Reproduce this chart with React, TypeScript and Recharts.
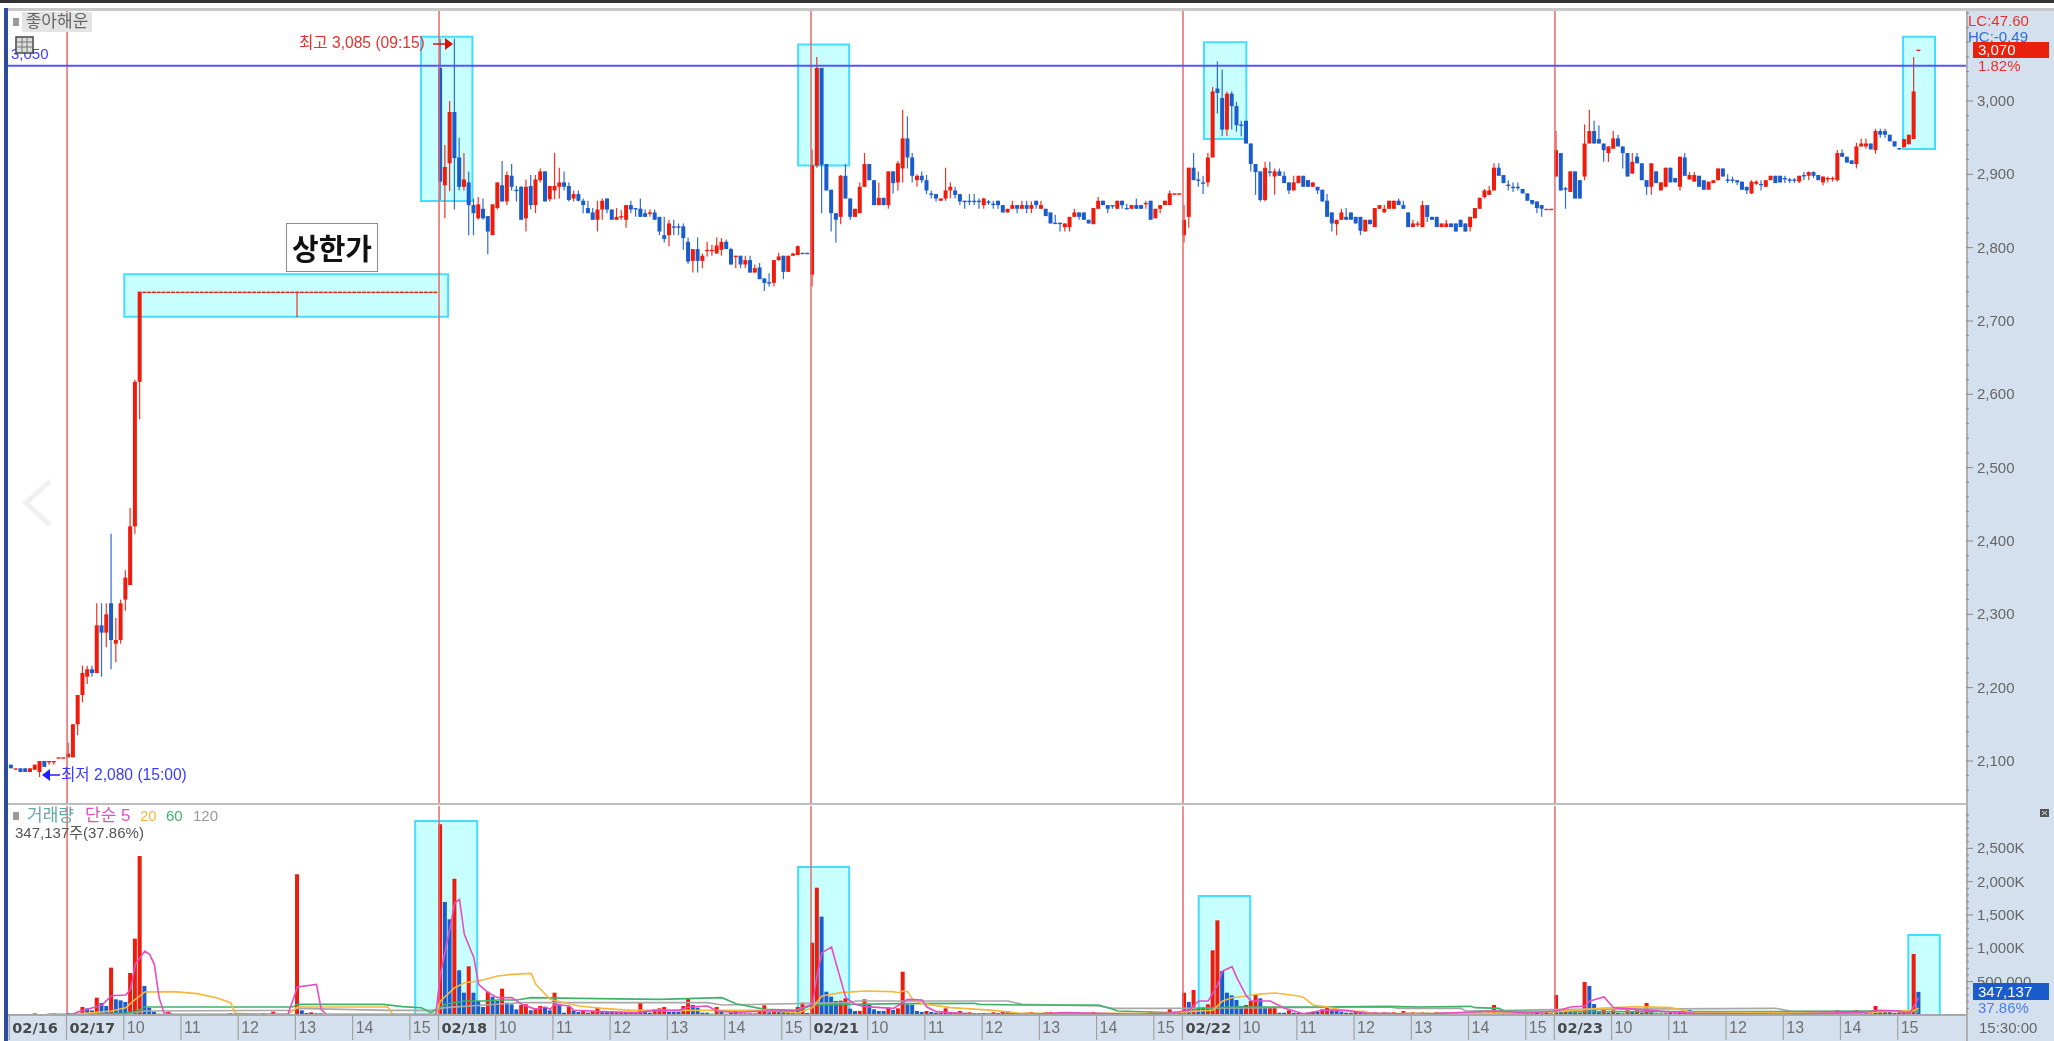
import React from 'react';
import {
  ComposedChart,
  Bar,
  Line,
  Cell,
  XAxis,
  YAxis,
  ReferenceArea,
  ReferenceLine,
} from 'recharts';

// rows are [open, close, high, low, volume in K], 5 minute candles
const day0216 = [
  [2095,2090,2095,2090,5],[2090,2090,2090,2090,3],[2090,2085,2090,2085,3],[2090,2085,2090,2085,3],
  [2085,2090,2090,2085,5],[2088,2095,2095,2088,25],[2085,2100,2100,2078,8],[2100,2092,2100,2092,5],
  [2099,2100,2100,2095,20],[2099,2100,2100,2095,20],[2105,2105,2105,2105,15],[2105,2105,2105,2105,3],
];

const day0217 = [
  [2105,2110,2125,2105,30],[2105,2150,2150,2105,25],[2150,2190,2190,2135,35],[2190,2220,2230,2180,120],
  [2215,2225,2230,2205,100],[2225,2220,2230,2215,70],[2220,2285,2315,2220,260],[2285,2275,2315,2215,180],
  [2275,2300,2315,2255,135],[2315,2265,2410,2225,710],[2260,2265,2295,2235,235],[2265,2315,2320,2260,220],
  [2320,2350,2360,2305,195],[2340,2420,2445,2340,630],[2420,2617,2620,2410,1145],[2617,2740,2740,2566,2385],
  [2740,2740,2740,2740,435],[2740,2740,2740,2740,110],[2740,2740,2740,2740,50],[2740,2740,2740,2740,20],
  [2740,2740,2740,2740,20],[2740,2740,2740,2740,50],[2740,2740,2740,2740,15],[2740,2740,2740,2740,15],
  [2740,2740,2740,2740,10],[2740,2740,2740,2740,10],[2740,2740,2740,2740,8],[2740,2740,2740,2740,5],
  [2740,2740,2740,2740,5],[2740,2740,2740,2740,0],[2740,2740,2740,2740,0],[2740,2740,2740,2740,0],
  [2740,2740,2740,2740,0],[2740,2740,2740,2740,0],[2740,2740,2740,2740,25],[2740,2740,2740,2740,0],
  [2740,2740,2740,2740,0],[2740,2740,2740,2740,10],[2740,2740,2740,2740,0],[2740,2740,2740,2740,0],
  [2740,2740,2740,2740,0],[2740,2740,2740,2740,25],[2740,2740,2740,2740,0],[2740,2740,2740,2740,50],
  [2740,2740,2740,2740,0],[2740,2740,2740,2740,10],[2740,2740,2740,2740,0],[2740,2740,2740,2740,0],
  [2740,2740,2740,2705,2110],[2740,2740,2740,2740,70],[2740,2740,2740,2740,30],[2740,2740,2740,2740,40],
  [2740,2740,2740,2740,25],[2740,2740,2740,2740,25],[2740,2740,2740,2740,15],[2740,2740,2740,2740,10],
  [2740,2740,2740,2740,10],[2740,2740,2740,2740,0],[2740,2740,2740,2740,0],[2740,2740,2740,2740,0],
  [2740,2740,2740,2740,0],[2740,2740,2740,2740,0],[2740,2740,2740,2740,0],[2740,2740,2740,2740,0],
  [2740,2740,2740,2740,0],[2740,2740,2740,2740,0],[2740,2740,2740,2740,0],[2740,2740,2740,2740,0],
  [2740,2740,2740,2740,0],[2740,2740,2740,2740,0],[2740,2740,2740,2740,0],[2740,2740,2740,2740,0],
  [2740,2740,2740,2740,0],[2740,2740,2740,2740,0],[2740,2740,2740,2740,0],[2740,2740,2740,2740,0],
  [2740,2740,2740,2740,0],[2740,2740,2740,2740,0],
];

const day0218 = [
  [3045,2890,3085,2865,2860],[2885,2910,2940,2840,1695],[2915,2985,3000,2877,1435],[2985,2922,3085,2852,2045],
  [2923,2883,2950,2878,670],[2883,2893,2929,2878,335],[2889,2858,2904,2817,730],[2858,2847,2867,2817,335],
  [2840,2859,2869,2838,210],[2853,2840,2867,2838,120],[2843,2822,2843,2791,350],[2817,2859,2859,2817,275],
  [2854,2889,2889,2852,210],[2885,2863,2918,2863,395],[2863,2899,2904,2858,185],[2898,2883,2914,2878,160],
  [2879,2878,2884,2863,85],[2883,2838,2884,2838,150],[2840,2883,2893,2822,160],[2884,2858,2899,2852,70],
  [2858,2893,2899,2847,100],[2892,2904,2908,2889,135],[2904,2863,2904,2863,120],[2866,2884,2884,2863,70],
  [2878,2884,2929,2866,335],[2883,2889,2909,2867,150],[2889,2883,2904,2878,35],[2884,2865,2889,2863,125],
  [2867,2873,2878,2863,70],[2873,2864,2878,2863,45],[2864,2858,2867,2847,70],[2854,2847,2864,2847,35],
  [2848,2838,2854,2838,60],[2838,2852,2864,2822,110],[2852,2864,2867,2838,60],[2867,2852,2867,2847,60],
  [2852,2838,2852,2838,50],[2838,2842,2854,2838,35],[2842,2843,2851,2838,30],[2838,2858,2858,2827,30],
  [2858,2852,2864,2847,30],[2854,2853,2854,2842,30],[2853,2842,2867,2842,185],[2847,2842,2852,2842,60],
  [2846,2848,2852,2842,35],[2848,2838,2852,2838,85],[2842,2822,2842,2817,100],[2817,2812,2842,2807,120],
  [2817,2833,2838,2802,50],[2829,2828,2838,2817,50],[2829,2828,2833,2817,50],[2829,2813,2833,2797,135],
  [2808,2781,2814,2778,245],[2782,2798,2798,2766,150],[2798,2782,2814,2766,110],[2782,2789,2792,2772,35],
  [2796,2797,2808,2788,35],[2796,2797,2804,2789,20],[2792,2803,2814,2792,120],[2797,2808,2813,2789,60],
  [2808,2798,2811,2798,20],[2798,2777,2800,2777,40],[2789,2789,2789,2772,60],[2789,2777,2789,2772,25],
  [2777,2783,2789,2772,25],[2783,2766,2789,2766,25],[2766,2772,2777,2766,25],[2773,2757,2779,2757,50],
  [2758,2752,2758,2741,145],[2753,2752,2765,2747,40],[2752,2783,2783,2747,70],[2783,2788,2793,2782,70],
  [2789,2767,2789,2757,50],[2767,2789,2789,2767,55],[2789,2792,2793,2789,55],[2790,2802,2803,2790,120],
  [2793,2792,2793,2792,185],[2793,2792,2793,2792,30],
];

const day0221 = [
  [2763,2912,2934,2747,1085],[2912,3045,3060,2909,1910],[3045,2913,3045,2847,1475],[2914,2878,2914,2878,350],
  [2879,2847,2879,2822,275],[2847,2838,2847,2807,210],[2842,2898,2899,2832,215],[2898,2867,2914,2867,250],
  [2867,2842,2867,2838,95],[2842,2853,2853,2842,60],[2847,2883,2889,2847,62],[2883,2914,2929,2883,235],
  [2914,2892,2914,2892,150],[2892,2858,2892,2858,85],[2858,2868,2889,2858,60],[2868,2858,2868,2858,60],
  [2858,2904,2904,2853,110],[2904,2888,2904,2874,75],[2889,2915,2918,2878,100],[2908,2949,2988,2889,650],
  [2949,2923,2979,2908,160],[2923,2898,2929,2889,155],[2892,2898,2900,2883,60],[2898,2892,2904,2888,45],
  [2892,2878,2899,2873,60],[2874,2873,2878,2867,45],[2873,2867,2873,2863,35],[2864,2867,2867,2864,30],
  [2867,2878,2909,2864,100],[2878,2883,2889,2867,35],[2878,2872,2883,2867,30],[2873,2863,2873,2858,60],
  [2864,2863,2864,2853,35],[2864,2863,2873,2858,40],[2864,2863,2873,2858,25],[2864,2863,2867,2853,25],
  [2858,2867,2868,2853,30],[2863,2862,2865,2858,25],[2860,2859,2864,2853,40],[2864,2858,2864,2853,30],
  [2858,2848,2858,2848,60],[2848,2853,2853,2848,60],[2853,2858,2864,2853,35],[2858,2853,2858,2847,30],
  [2853,2858,2864,2853,25],[2858,2853,2864,2847,35],[2853,2858,2863,2847,45],[2864,2858,2864,2853,25],
  [2853,2858,2864,2853,30],[2853,2843,2853,2843,40],[2848,2833,2848,2833,45],[2834,2833,2845,2833,25],
  [2834,2833,2834,2822,40],[2828,2833,2833,2822,40],[2828,2842,2842,2822,40],[2842,2848,2853,2842,40],
  [2848,2842,2848,2838,25],[2848,2838,2848,2838,25],[2838,2833,2838,2833,25],[2832,2854,2854,2832,45],
  [2853,2864,2869,2853,25],[2864,2858,2864,2858,25],[2858,2853,2858,2847,25],[2858,2856,2858,2853,25],
  [2853,2864,2864,2853,25],[2864,2858,2864,2853,25],[2854,2853,2860,2853,25],[2853,2858,2858,2853,25],
  [2858,2853,2867,2853,25],[2858,2853,2858,2853,25],[2860,2861,2864,2853,25],[2864,2838,2864,2838,50],
  [2840,2853,2853,2840,35],[2853,2858,2858,2847,35],[2858,2864,2864,2858,35],[2858,2874,2878,2858,85],
  [2873,2874,2874,2873,50],[2873,2874,2874,2873,50],
];

const day0222 = [
  [2817,2838,2858,2807,335],[2842,2909,2909,2827,195],[2909,2892,2929,2892,375],[2893,2892,2904,2883,110],
  [2889,2888,2898,2873,110],[2889,2923,2929,2883,160],[2923,3013,3019,2923,970],[3017,3011,3054,2983,1420],
  [3004,2961,3043,2952,660],[2961,3010,3013,2952,335],[3010,2993,3013,2961,295],[2993,2967,2999,2958,225],
  [2968,2967,2973,2952,135],[2973,2942,2973,2942,150],[2942,2914,2942,2904,210],[2914,2903,2914,2872,300],
  [2904,2865,2904,2863,250],[2865,2909,2917,2863,110],[2904,2903,2917,2897,115],[2897,2904,2908,2872,125],
  [2904,2898,2908,2898,35],[2898,2888,2904,2888,35],[2889,2878,2889,2873,70],[2878,2889,2898,2878,35],
  [2888,2898,2898,2888,30],[2898,2883,2898,2883,25],[2892,2883,2892,2883,35],[2883,2889,2889,2883,45],
  [2883,2878,2883,2873,45],[2879,2863,2879,2863,85],[2864,2842,2873,2842,125],[2848,2833,2848,2822,85],
  [2832,2838,2838,2817,85],[2838,2848,2853,2838,50],[2842,2838,2854,2838,35],[2848,2838,2848,2838,35],
  [2842,2833,2842,2833,45],[2842,2823,2842,2817,55],[2822,2838,2838,2822,30],[2838,2832,2838,2832,35],
  [2828,2854,2854,2828,40],[2853,2858,2858,2853,30],[2848,2853,2858,2848,40],[2853,2864,2864,2853,35],
  [2853,2864,2864,2853,40],[2864,2858,2867,2858,30],[2858,2853,2864,2853,60],[2848,2828,2848,2828,35],
  [2828,2833,2838,2828,40],[2832,2833,2836,2828,35],[2828,2858,2864,2828,40],[2858,2842,2858,2835,35],
  [2842,2838,2842,2838,30],[2842,2828,2842,2828,40],[2828,2833,2833,2828,35],[2828,2833,2838,2828,35],
  [2833,2828,2833,2828,25],[2833,2822,2833,2822,30],[2838,2828,2838,2828,25],[2833,2822,2833,2822,30],
  [2828,2842,2842,2822,35],[2840,2854,2854,2840,40],[2853,2868,2868,2853,40],[2869,2878,2880,2867,35],
  [2872,2878,2884,2872,40],[2878,2909,2915,2878,150],[2909,2898,2915,2898,40],[2899,2888,2899,2888,35],
  [2886,2885,2892,2878,25],[2883,2882,2889,2876,25],[2883,2882,2889,2878,25],[2880,2874,2880,2874,25],
  [2874,2864,2874,2864,25],[2865,2860,2865,2858,25],[2863,2854,2863,2847,30],[2858,2853,2858,2842,25],
  [2853,2853,2853,2853,60],[2853,2853,2853,2853,25],
];

const day0223 = [
  [2897,2933,2959,2897,300],[2929,2878,2929,2878,50],[2881,2880,2883,2853,70],[2876,2904,2904,2876,70],
  [2904,2867,2904,2867,40],[2892,2867,2892,2867,35],[2897,2942,2968,2892,495],[2942,2959,2988,2942,435],
  [2959,2942,2973,2942,165],[2948,2942,2967,2942,55],[2942,2933,2942,2917,75],[2929,2938,2938,2917,35],
  [2935,2949,2959,2935,70],[2949,2938,2954,2938,30],[2938,2929,2938,2908,25],[2929,2897,2929,2897,70],
  [2901,2917,2929,2901,50],[2924,2915,2929,2915,70],[2915,2892,2915,2892,35],[2892,2883,2892,2872,180],
  [2883,2915,2915,2872,40],[2904,2888,2904,2888,25],[2878,2889,2889,2878,25],[2883,2909,2909,2883,25],
  [2909,2889,2909,2889,35],[2895,2889,2895,2889,25],[2883,2924,2924,2878,30],[2923,2898,2929,2898,75],
  [2893,2899,2903,2893,75],[2890,2899,2903,2890,30],[2898,2883,2898,2883,40],[2892,2879,2892,2879,30],
  [2879,2890,2890,2879,35],[2888,2892,2892,2888,35],[2892,2908,2908,2892,35],[2908,2897,2908,2897,30],
  [2893,2892,2900,2888,25],[2893,2892,2897,2888,25],[2892,2889,2892,2885,30],[2890,2879,2890,2879,40],
  [2883,2878,2883,2873,25],[2874,2890,2892,2873,30],[2887,2890,2892,2885,30],[2887,2886,2892,2878,25],
  [2883,2892,2892,2883,35],[2892,2898,2898,2892,35],[2898,2888,2898,2888,25],[2898,2889,2898,2889,25],
  [2895,2894,2898,2888,25],[2893,2892,2895,2888,25],[2893,2892,2895,2888,25],[2890,2898,2898,2888,35],
  [2899,2898,2903,2892,25],[2898,2903,2904,2892,40],[2903,2898,2904,2895,30],[2899,2892,2899,2892,25],
  [2889,2897,2897,2885,35],[2894,2895,2897,2889,25],[2894,2895,2897,2890,25],[2892,2929,2933,2890,75],
  [2929,2924,2934,2924,35],[2924,2916,2924,2916,30],[2919,2914,2919,2914,25],[2914,2938,2943,2908,75],
  [2938,2942,2949,2938,35],[2938,2942,2949,2935,30],[2942,2934,2942,2934,25],[2933,2959,2962,2928,135],
  [2959,2954,2962,2950,60],[2959,2954,2962,2950,50],[2954,2945,2954,2945,45],[2945,2938,2945,2938,30],
  [2936,2935,2936,2933,40],[2937,2948,2948,2937,50],[2941,2954,2954,2941,75],[2948,3013,3060,2948,915],
  [3070,3070,3070,3070,347],
];

const ma5Points = [
  [8,10],[10,10],[13,10],[14,50],[16,85],[19,150],[21,290],[24,300],[25,385],[26,760],[28,960],[29,910],[30,760],
  [31,260],[32,35],[34,10],[58,10],[59,210],[60,420],[64,460],[65,85],[66,10],[89,10],[90,610],[92,1310],[93,1685],
  [94,1735],[95,1210],[97,860],[98,460],[100,335],[102,260],[105,260],[107,160],[110,85],[112,120],[113,85],[114,160],
  [117,135],[118,70],[124,50],[131,35],[135,70],[140,70],[142,120],[146,135],[148,60],[152,40],[158,60],[164,60],
  [168,160],[169,610],[170,935],[172,1020],[173,760],[175,260],[177,160],[179,125],[185,100],[188,235],[191,225],
  [192,120],[194,50],[197,35],[202,10],[214,10],[221,35],[236,10],[243,30],[247,70],[249,210],[251,210],[253,460],
  [254,660],[256,725],[257,560],[259,285],[260,210],[264,210],[267,100],[271,20],[275,70],[280,70],[284,30],[295,10],
  [311,60],[318,30],[324,60],[327,120],[330,135],[331,210],[334,270],[336,110],[347,50],[353,25],[370,10],[388,40],
  [392,70],[396,60],[398,10],[400,260],
];
const ma20Points = [
  [13,10],[21,60],[24,110],[26,235],[28,345],[34,350],[39,320],[43,260],[46,185],[47,25],[52,10],[58,10],[60,120],
  [79,120],[80,10],[89,0],[90,210],[93,410],[95,485],[98,510],[102,585],[105,610],[109,625],[110,460],[113,235],
  [116,185],[119,135],[124,100],[130,70],[158,70],[165,30],[168,110],[170,285],[174,335],[179,360],[185,350],
  [186,335],[187,360],[188,350],[189,235],[191,170],[197,110],[206,70],[211,30],[221,20],[243,30],[247,50],[252,70],
  [254,210],[256,260],[259,285],[261,310],[265,330],[270,285],[271,260],[273,150],[276,120],[280,60],[284,50],
  [285,20],[309,25],[324,50],[333,100],[341,125],[348,110],[353,35],[364,35],[388,30],[399,70],[400,100],
];
const ma60Points = [
  [14,10],[24,30],[26,50],[28,120],[59,120],[60,160],[78,160],[82,125],[86,110],[88,35],[91,160],[95,210],[99,210],
  [102,225],[106,225],[109,260],[119,250],[136,235],[149,260],[152,170],[158,85],[165,70],[168,150],[186,170],
  [202,175],[203,160],[212,150],[228,150],[231,85],[232,60],[246,30],[249,100],[256,120],[273,120],[289,130],
  [295,120],[306,130],[307,110],[312,100],[313,60],[324,50],[348,50],[365,50],[400,60],
];
const ma120Points = [
  [14,5],[24,15],[28,60],[59,70],[60,100],[79,70],[88,70],[91,110],[107,185],[114,185],[137,185],[146,185],[149,150],
  [176,185],[177,210],[191,210],[209,210],[212,160],[228,135],[231,100],[244,100],[289,120],[291,100],[304,100],
  [305,60],[326,85],[370,100],[373,60],[400,50],
];

const priceLabels = [2100, 2200, 2300, 2400, 2500, 2600, 2700, 2800, 2900, 3000];
const volumeLabels = [500, 1000, 1500, 2000, 2500];
const dateLabels: Record<number, string> = { 0: '02/16', 12: '02/17', 90: '02/18', 168: '02/21', 246: '02/22', 324: '02/23' };
const hourTicks: [number, string][] = [
  [24,'10'],[36,'11'],[48,'12'],[60,'13'],[72,'14'],[84,'15'],
  [102,'10'],[114,'11'],[126,'12'],[138,'13'],[150,'14'],[162,'15'],
  [180,'10'],[192,'11'],[204,'12'],[216,'13'],[228,'14'],[240,'15'],
  [258,'10'],[270,'11'],[282,'12'],[294,'13'],[306,'14'],[318,'15'],
  [336,'10'],[348,'11'],[360,'12'],[372,'13'],[384,'14'],[396,'15'],
];
const sessionStarts = [12, 90, 168, 246, 324];

const RED = '#ee1c0c';
const BLUE = '#1a5ccc';
const FONT = '"Liberation Sans", "Noto Sans CJK KR", sans-serif';
const BOX = { fill: '#c8ffff', fillOpacity: 1, stroke: '#44ddff', strokeWidth: 2 };

const allRows = [...day0216, ...day0217, ...day0218, ...day0221, ...day0222, ...day0223];
const lookup = (points: number[][]) => new Map(points.map(([i, v]) => [i, v]));
const ma5 = lookup(ma5Points);
const ma20 = lookup(ma20Points);
const ma60 = lookup(ma60Points);
const ma120 = lookup(ma120Points);

const rows = allRows.map(([o, c, h, l, v], i) => ({
  i, o, c, h, l, v,
  range: [l, h],
  volUp: i === 0 || v > allRows[i - 1][4],
  ma5: ma5.get(i) ?? null,
  ma20: ma20.get(i) ?? null,
  ma60: ma60.get(i) ?? null,
  ma120: ma120.get(i) ?? null,
}));

const xDomain = [-0.69, 409.9];
const priceTicks = Array.from({ length: 54 }, (_, k) => 2060 + k * 20);
const volumeTicks = Array.from({ length: 31 }, (_, k) => k * 100);
const xTicks = [...Object.keys(dateLabels).map(Number), ...hourTicks.map((t) => t[0])].sort((a, b) => a - b);
const hourLabel = new Map(hourTicks);

const CandleShape = (props: any) => {
  const { x, y, width, height, payload } = props;
  const { o, c, h, l } = payload;
  const cx = x + width / 2;
  const up = c >= o;
  const color = up ? RED : BLUE;
  const perWon = h > l ? height / (h - l) : 0;
  const yOf = (p: number) => y + (h - p) * perWon;
  const top = yOf(Math.max(o, c));
  const bottom = yOf(Math.min(o, c));
  return (
    <g>
      {h > l && <line x1={cx} x2={cx} y1={y} y2={y + height} stroke={color} strokeWidth={1.2} strokeOpacity={0.9} />}
      <rect x={cx - 2} y={top} width={4} height={Math.max(bottom - top, 1.4)} fill={color} />
    </g>
  );
};

const PriceTick = (props: any) => {
  const { x, y, payload } = props;
  const major = priceLabels.includes(payload.value);
  return (
    <g>
      <line x1={x} x2={x + (major ? 7 : 3)} y1={y} y2={y} stroke="#8a8a8a" />
      {major && (
        <text x={x + 11} y={y + 5} fontSize={15} fontFamily={FONT} fill="#666">
          {payload.value.toLocaleString('en-US')}
        </text>
      )}
    </g>
  );
};

const VolumeTick = (props: any) => {
  const { x, y, payload } = props;
  const major = volumeLabels.includes(payload.value);
  if (payload.value === 0) return <g />;
  const text = payload.value === 500 ? '500,000' : `${payload.value.toLocaleString('en-US')}K`;
  return (
    <g>
      <line x1={x} x2={x + (major ? 7 : 3)} y1={y} y2={y} stroke="#8a8a8a" />
      {major && (
        <text x={x + 11} y={y + 5} fontSize={15} fontFamily={FONT} fill="#666">
          {text}
        </text>
      )}
    </g>
  );
};

const TimeTick = (props: any) => {
  const { x, y, payload } = props;
  const date = dateLabels[payload.value];
  return (
    <g>
      <line x1={x - 2} x2={x - 2} y1={y} y2={y + 25} stroke="#a2a2a2" strokeWidth={1.2} />
      <text
        x={x + 1}
        y={y + 18}
        fontSize={date ? 14.5 : 16}
        fontWeight={date ? 700 : 400}
        fontFamily={date ? '"DejaVu Sans", sans-serif' : FONT}
        fill={date ? '#484848' : '#707070'}
      >
        {date || hourLabel.get(payload.value)}
      </text>
    </g>
  );
};

const label = (left: number, top: number, color: string, size = 15): React.CSSProperties => ({
  position: 'absolute',
  left,
  top,
  color,
  fontSize: size,
  lineHeight: `${size + 3}px`,
  fontFamily: FONT,
  whiteSpace: 'nowrap',
});

const block = (left: number, top: number, width: number, height: number, background: string): React.CSSProperties => ({
  position: 'absolute',
  left,
  top,
  width,
  height,
  background,
});

const App = () => (
  <div style={{ position: 'absolute', left: 0, top: 0, width: 2054, height: 1041, overflow: 'hidden', background: '#fff', filter: 'blur(0.4px)' }}>
    <div style={block(0, 0, 2054, 3, '#333')} />
    <div style={block(4, 8, 2050, 3, '#c8c8c8')} />
    <div style={block(4, 8, 4, 1033, '#2d4a9d')} />
    <div style={block(1966, 11, 88, 1030, '#d4e0ed')} />
    <div style={block(8, 1016, 2046, 25, '#d4e0ed')} />
    <div style={block(1966, 11, 2, 1030, '#b0b0b0')} />

    <div style={{ position: 'absolute', left: 8, top: 11 }}>
      <ComposedChart width={2046} height={792} data={rows} margin={{ top: 0, right: 0, bottom: 0, left: 0 }}>
        <XAxis dataKey="i" type="number" domain={xDomain} hide allowDataOverflow />
        <YAxis
          orientation="right"
          width={88}
          domain={[2042.7, 3122.7]}
          ticks={priceTicks}
          interval={0}
          tick={<PriceTick />}
          tickLine={false}
          tickSize={0}
          tickMargin={0}
          axisLine={false}
          allowDataOverflow
        />
        <ReferenceArea x1={23.7} x2={91.6} y1={2705.9} y2={2763.7} {...BOX} />
        <ReferenceArea x1={85.9} x2={96.7} y1={2863.6} y2={3087.7} {...BOX} />
        <ReferenceArea x1={165} x2={175.7} y1={2912} y2={3077} {...BOX} />
        <ReferenceArea x1={250.1} x2={259} y1={2948} y2={3080} {...BOX} />
        <ReferenceArea x1={396.7} x2={403.4} y1={2934.5} y2={3087.7} {...BOX} />
        {sessionStarts.map((s) => (
          <ReferenceLine key={s} x={s - 0.3} stroke="#e56a6a" strokeWidth={1.5} />
        ))}
        <ReferenceLine y={3048} stroke="#5555ff" strokeWidth={2} />
        <Bar dataKey="range" barSize={4} shape={<CandleShape />} isAnimationActive={false} />
      </ComposedChart>
    </div>

    <div style={block(8, 803, 1958, 2, '#bdbdbd')} />

    <div style={{ position: 'absolute', left: 8, top: 806 }}>
      <ComposedChart width={2046} height={235} data={rows} margin={{ top: 0, right: 0, bottom: 0, left: 0 }}>
        <XAxis
          dataKey="i"
          type="number"
          domain={xDomain}
          ticks={xTicks}
          interval={0}
          height={26}
          tick={<TimeTick />}
          tickLine={false}
          tickSize={0}
          tickMargin={0}
          axisLine={{ stroke: '#a8a8a8', strokeWidth: 2 }}
          allowDataOverflow
        />
        <YAxis
          orientation="right"
          width={88}
          domain={[0, 3135]}
          ticks={volumeTicks}
          interval={0}
          tick={<VolumeTick />}
          tickLine={false}
          tickSize={0}
          tickMargin={0}
          axisLine={false}
          allowDataOverflow
        />
        <ReferenceArea x1={84.7} x2={97.7} y1={0} y2={2910} {...BOX} />
        <ReferenceArea x1={165} x2={175.7} y1={0} y2={2220} {...BOX} />
        <ReferenceArea x1={249} x2={259.8} y1={0} y2={1785} {...BOX} />
        <ReferenceArea x1={397.8} x2={404.4} y1={0} y2={1200} {...BOX} />
        {sessionStarts.map((s) => (
          <ReferenceLine key={s} x={s - 0.3} stroke="#e56a6a" strokeWidth={1.5} />
        ))}
        <Bar dataKey="v" barSize={4} isAnimationActive={false}>
          {rows.map((r) => (
            <Cell key={r.i} fill={r.volUp ? RED : BLUE} />
          ))}
        </Bar>
        <Line dataKey="ma120" stroke="#a8a8a8" strokeWidth={1.6} dot={false} connectNulls isAnimationActive={false} />
        <Line dataKey="ma60" stroke="#3fb26a" strokeWidth={1.6} dot={false} connectNulls isAnimationActive={false} />
        <Line dataKey="ma20" stroke="#f4b83c" strokeWidth={1.6} dot={false} connectNulls isAnimationActive={false} />
        <Line dataKey="ma5" stroke="#e84cc4" strokeWidth={1.6} dot={false} connectNulls isAnimationActive={false} />
      </ComposedChart>
    </div>

    {/* header chip and pane labels */}
    <div style={block(13, 18, 6, 8, '#9a9a9a')} />
    <div style={{ ...label(22, 12, '#666', 17), width: 70, height: 20, background: '#e4e4e4', textAlign: 'center' }}>좋아해운</div>
    <div style={label(11, 45, '#4040ff')}>3,050</div>
    <svg style={{ position: 'absolute', left: 0, top: 0 }} width={2054} height={1041}>
      <rect x={16} y={37} width={17} height={16} fill="#ddd" stroke="#444" strokeWidth={1.5} />
      <path d="M16 42H33M16 47H33M22 37V53M27 37V53" stroke="#777" />
      <path d="M433 44H446" stroke="#d8140a" strokeWidth={1.5} />
      <path d="M445 38L453 44L445 50Z" fill="#d8140a" />
      <path d="M60 775H48" stroke="#2020ff" strokeWidth={1.5} />
      <path d="M50 769L42 775L50 781Z" fill="#2020ff" />
      <path d="M50 481L26 503L50 525" fill="none" stroke="#f0f0f0" strokeWidth={5} />
      <rect x={2040} y={809} width={9} height={8} fill="#555" />
      <path d="M2042 811L2047 815M2047 811L2042 815" stroke="#ddd" />
    </svg>
    <div style={label(299, 34, '#e83030', 15.6)}>최고 3,085 (09:15)</div>
    <div style={label(61, 766, '#3a3aff', 15.6)}>최저 2,080 (15:00)</div>
    <div
      style={{
        position: 'absolute', left: 286, top: 223, width: 90, height: 47, background: '#fff',
        border: '1.5px solid #8c8c8c', textAlign: 'center', fontFamily: '"Noto Sans CJK KR", sans-serif',
        fontWeight: 700, fontSize: 29, lineHeight: '46px', color: '#111',
      }}
    >
      상한가
    </div>

    <div style={block(13, 812, 6, 8, '#9a9a9a')} />
    <div style={label(27, 806, '#60a8a8', 17)}>거래량</div>
    <div style={label(85, 806, '#e050c0', 17)}>단순 5</div>
    <div style={label(140, 807, '#f4b83c')}>20</div>
    <div style={label(166, 807, '#3fb26a')}>60</div>
    <div style={label(193, 807, '#999')}>120</div>
    <div style={label(15, 824, '#555')}>347,137주(37.86%)</div>

    {/* right scale tags */}
    <div style={label(1968, 12, '#e83030')}>LC:47.60</div>
    <div style={label(1968, 28, '#2f6fd8')}>HC:-0.49</div>
    <div style={{ ...block(1973, 42, 76, 16, '#e8200c'), ...{ color: '#fff', fontFamily: FONT, fontSize: 15, lineHeight: '16px', paddingLeft: 5, boxSizing: 'border-box' } }}>3,070</div>
    <div style={label(1978, 57, '#e83030')}>1.82%</div>
    <div style={{ ...block(1973, 983, 76, 17, '#1a5ccc'), ...{ color: '#fff', fontFamily: FONT, fontSize: 15, lineHeight: '17px', paddingLeft: 5, boxSizing: 'border-box' } }}>347,137</div>
    <div style={label(1978, 999, '#4a80e8')}>37.86%</div>
    <div style={label(1979, 1019, '#666')}>15:30:00</div>
  </div>
);

export default App;
